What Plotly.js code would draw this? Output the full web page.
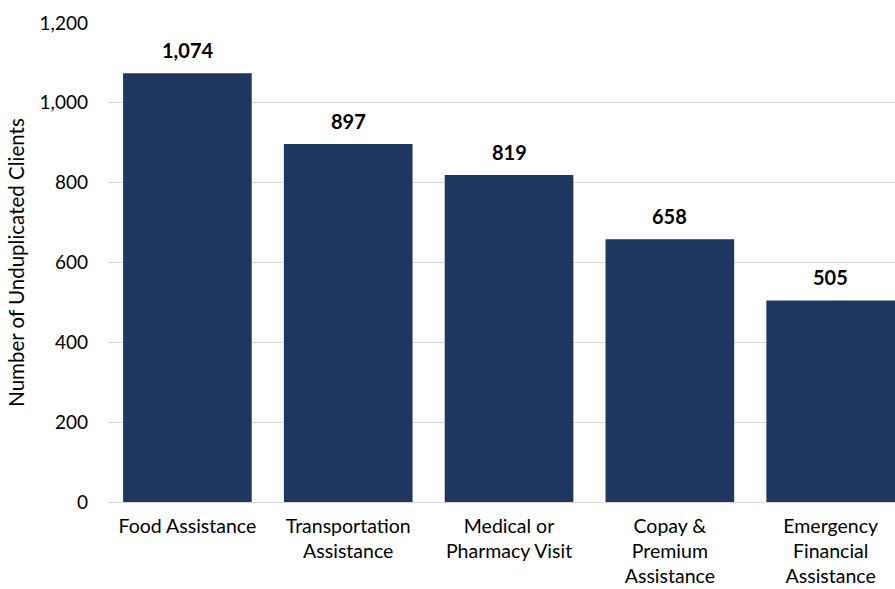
<!DOCTYPE html>
<html>
<head>
<meta charset="utf-8">
<script src="https://cdn.plot.ly/plotly-3.0.1.min.js"></script>
<style>html,body{margin:0;padding:0;background:#fff;}#chart{width:895px;height:589px;}</style>
</head>
<body>
<div id="chart"></div>
<script>
var categories = ["Food Assistance", "Transportation<br>Assistance", "Medical or<br>Pharmacy Visit", "Copay &<br>Premium<br>Assistance", "Emergency<br>Financial<br>Assistance"];
var clients = [1074, 897, 819, 658, 505];
var yTicks = [0, 200, 400, 600, 800, 1000, 1200];
var yTickLabels = ["0", "200", "400", "600", "800", "1,000", "1,200"];

var FONT = "'Gill Sans', 'Gill Sans MT', Lato, 'Open Sans', sans-serif";

var trace = {
  type: "bar",
  x: categories,
  y: clients,
  marker: {color: "#1f3660"},
  hoverinfo: "none"
};

var annotations = categories.map(function(c, i) {
  return {
    x: c, y: clients[i], xref: "x", yref: "y",
    text: "<b>" + clients[i].toLocaleString("en-US") + "</b>",
    showarrow: false, yanchor: "bottom", yshift: 9,
    font: {family: FONT, size: 20, color: "#000"}
  };
});

var layout = {
  width: 895, height: 589,
  margin: {l: 107, r: 0, t: 23, b: 87},
  paper_bgcolor: "#fff", plot_bgcolor: "#fff",
  bargap: 0.2,
  showlegend: false,
  xaxis: {
    range: [-0.5, 4.4],
    tickfont: {family: FONT, size: 19.5, color: "#000"},
    showgrid: false, zeroline: false, showline: false,
    ticks: "", ticklabelstandoff: 10, fixedrange: true
  },
  yaxis: {
    range: [0, 1200],
    tickvals: yTicks, ticktext: yTickLabels,
    tickfont: {family: FONT, size: 19, color: "#000"},
    showgrid: true, gridcolor: "#d9d9d9", gridwidth: 1,
    zeroline: true, zerolinecolor: "#d9d9d9", zerolinewidth: 1,
    showline: false, ticks: "", ticklabelstandoff: 18,
    title: {text: "Number of Unduplicated Clients", font: {family: FONT, size: 20.5, color: "#000"}, standoff: 9},
    fixedrange: true
  },
  annotations: annotations
};

Plotly.newPlot("chart", [trace], layout, {displayModeBar: false, staticPlot: true});
</script>
</body>
</html>
